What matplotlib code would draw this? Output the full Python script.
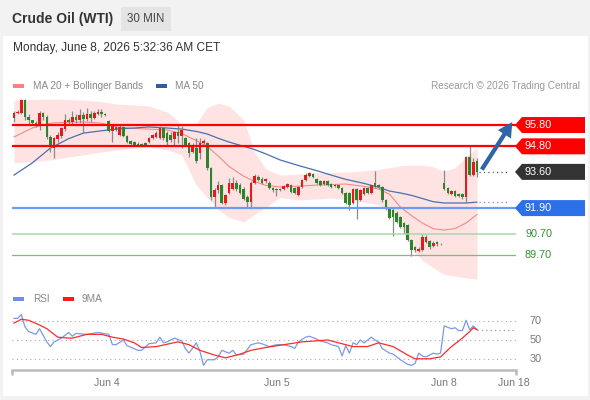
import numpy as np
import matplotlib
matplotlib.use("Agg")
import matplotlib.pyplot as plt
from matplotlib.patches import Rectangle, Polygon, FancyArrowPatch
import matplotlib.transforms as mtransforms

plt.rcParams['font.family'] = ['Liberation Sans', 'DejaVu Sans']

# 30 min candles, Jun 3 late morning -> Jun 8 05:00 CET (index = candle number)
opens = [96.13, 96.36, 96.36, 96.97, 96.18, 96.03, 95.90, 95.80, 96.36, 96.18,
         95.25, 94.70, 95.15, 95.30, 95.60, 96.03, 95.95, 96.18, 96.05, 96.27,
         96.10, 96.30, 96.15, 96.30, 96.40, 96.30, 96.00, 95.50, 95.70, 95.35,
         95.70, 95.30, 95.05, 95.00, 94.92, 94.90, 94.95, 95.00, 95.20, 95.25,
         95.20, 95.66, 95.42, 95.35, 95.15, 95.45, 95.30, 95.20, 94.95, 94.55,
         94.70, 94.50, 94.95, 94.95, 93.80, 92.40, 92.75, 93.00, 92.15, 92.60,
         92.80, 93.10, 93.00, 92.80, 92.40, 92.20, 93.10, 93.35, 93.25, 93.15,
         93.10, 92.85, 92.80, 92.80, 92.80, 92.90, 93.00, 92.85, 92.50, 92.90,
         93.20, 93.40, 93.50, 93.25, 93.15, 93.05, 93.15, 93.05, 92.95, 92.98,
         92.84, 92.60, 92.60, 92.15, 92.80, 92.30, 92.55, 92.85, 92.60, 93.10,
         93.00, 92.90, 92.30, 91.90, 91.80, 91.65, 91.50, 91.20, 91.10, 90.40,
         90.05, 89.90, 89.95, 90.30, 90.35, 90.10, 90.30, 90.22, 93.10, 92.85,
         92.55, 92.70, 92.55, 92.55, 92.40, 94.30, 93.45, 94.10]
highs = [96.45, 96.50, 97.02, 97.00, 96.30, 96.05, 95.98, 96.45, 96.40, 96.25,
         95.35, 95.25, 95.45, 95.70, 96.30, 96.15, 96.45, 96.30, 96.55, 96.40,
         96.60, 96.45, 96.45, 96.55, 96.55, 96.35, 96.05, 95.85, 95.75, 95.80,
         95.75, 95.35, 95.10, 95.05, 94.98, 94.95, 95.00, 95.25, 95.40, 95.50,
         95.75, 95.70, 95.50, 95.45, 95.50, 95.80, 95.75, 95.25, 95.00, 94.95,
         95.20, 95.20, 95.15, 95.00, 93.85, 92.85, 93.15, 93.05, 92.55, 93.30,
         93.35, 93.20, 93.10, 92.90, 92.50, 93.15, 93.50, 93.45, 93.35, 93.30,
         93.15, 92.90, 92.85, 92.85, 93.00, 93.10, 93.05, 92.90, 92.95, 93.25,
         93.55, 93.60, 93.55, 93.30, 93.20, 93.20, 93.20, 93.10, 93.05, 93.00,
         92.90, 92.65, 92.65, 92.85, 92.85, 92.80, 92.90, 92.90, 93.00, 93.65,
         93.05, 92.95, 92.35, 91.95, 91.90, 91.75, 91.55, 91.25, 91.15, 90.45,
         90.10, 90.05, 90.70, 90.65, 90.40, 90.35, 90.35, 90.25, 93.70, 92.90,
         92.75, 92.75, 92.60, 92.60, 94.35, 94.80, 94.25, 94.25]
lows = [95.96, 96.30, 96.30, 96.05, 95.85, 95.80, 95.70, 95.55, 96.05, 95.15,
        94.55, 94.25, 95.00, 95.20, 95.50, 95.85, 95.85, 95.90, 95.90, 95.42,
        96.00, 95.95, 96.10, 96.25, 96.20, 96.22, 95.45, 94.98, 95.50, 95.30,
        95.25, 94.95, 94.85, 94.80, 94.82, 94.80, 94.80, 94.95, 95.15, 95.20,
        95.15, 95.10, 94.80, 95.00, 94.80, 94.95, 94.70, 94.80, 94.30, 94.50,
        94.00, 94.20, 94.90, 93.70, 92.30, 91.90, 92.60, 92.10, 92.05, 92.55,
        92.75, 92.70, 92.55, 92.30, 91.95, 91.95, 93.05, 93.15, 93.05, 93.10,
        92.80, 92.65, 92.45, 92.70, 92.75, 92.85, 92.60, 92.55, 92.45, 92.85,
        93.15, 93.35, 93.30, 93.05, 92.95, 93.00, 92.95, 92.85, 92.90, 92.80,
        92.55, 92.10, 91.80, 92.10, 91.40, 92.25, 92.50, 92.55, 92.55, 92.85,
        92.80, 92.20, 91.80, 91.40, 90.60, 91.20, 90.95, 90.70, 90.35, 89.65,
        89.85, 89.85, 89.90, 90.25, 90.00, 90.05, 90.10, 90.15, 92.75, 92.55,
        92.50, 92.40, 92.40, 92.35, 92.15, 93.40, 93.40, 93.35]
closes = [96.36, 96.40, 96.97, 96.18, 96.03, 95.90, 95.80, 96.36, 96.18, 95.25,
          94.75, 95.20, 95.35, 95.66, 96.03, 95.95, 96.18, 96.05, 96.27, 96.10,
          96.30, 96.15, 96.35, 96.40, 96.30, 96.28, 95.50, 95.75, 95.57, 95.70,
          95.30, 95.00, 94.90, 94.88, 94.88, 94.86, 94.86, 95.20, 95.33, 95.42,
          95.66, 95.20, 95.00, 95.10, 95.45, 95.30, 95.55, 94.85, 94.50, 94.85,
          94.10, 94.95, 95.05, 93.80, 92.40, 92.75, 93.00, 92.15, 92.50, 93.10,
          93.10, 92.80, 92.60, 92.35, 92.20, 93.10, 93.40, 93.20, 93.10, 93.25,
          92.85, 92.75, 92.75, 92.75, 92.95, 93.05, 92.65, 92.60, 92.90, 93.20,
          93.45, 93.55, 93.35, 93.10, 93.00, 93.15, 93.00, 92.90, 93.00, 92.84,
          92.60, 92.15, 92.05, 92.80, 92.30, 92.75, 92.85, 92.60, 92.98, 92.90,
          92.90, 92.28, 91.90, 91.45, 91.50, 91.25, 91.00, 91.00, 90.40, 89.93,
          89.95, 90.00, 90.55, 90.55, 90.05, 90.25, 90.20, 90.20, 92.80, 92.60,
          92.70, 92.45, 92.45, 92.40, 94.30, 93.45, 94.05, 93.60]

# moving averages / bollinger bands, read at these candle indexes
ind_idx = [0, 5, 10, 15, 19, 24, 28, 33, 37, 42, 46, 50, 53, 56, 59, 63, 66,
           69, 73, 78, 83, 87, 91, 96, 100, 103, 106, 109, 112, 115, 118, 121, 124, 127]
bb_upper = [96.97, 97.00, 97.02, 97.00, 96.97, 96.90, 96.79, 96.74, 96.69, 96.41,
            95.85, 95.89, 96.62, 96.83, 96.69, 96.05, 94.53, 93.75, 93.45, 93.50,
            93.55, 93.57, 93.59, 93.65, 93.72, 93.80, 93.88, 93.92, 93.92, 93.84,
            93.62, 93.80, 94.30, 94.72]
bb_lower = [94.02, 94.08, 94.16, 94.30, 94.40, 94.53, 94.62, 94.72, 94.77, 94.63,
            94.40, 92.98, 92.40, 91.85, 91.45, 91.25, 91.60, 91.95, 92.40, 92.28,
            92.33, 92.37, 92.30, 92.18, 92.05, 91.80, 91.10, 90.00, 89.45, 89.10,
            88.78, 88.70, 88.62, 88.57]
ma20 = [95.24, 95.66, 95.89, 95.93, 95.94, 95.89, 95.71, 95.64, 95.61, 95.57,
        95.40, 95.07, 94.80, 94.35, 93.85, 93.40, 93.15, 92.97, 92.89, 92.93,
        92.98, 93.00, 93.03, 92.92, 92.80, 92.55, 91.95, 91.55, 91.20, 90.93,
        90.87, 90.94, 91.20, 91.60]
ma50 = [93.45, 94.02, 94.72, 95.16, 95.42, 95.53, 95.61, 95.66, 95.71, 95.66,
        95.61, 95.50, 95.38, 95.18, 95.00, 94.80, 94.65, 94.45, 94.16, 93.90,
        93.66, 93.45, 93.25, 93.06, 92.88, 92.70, 92.61, 92.50, 92.35, 92.20,
        92.14, 92.14, 92.14, 92.18]

# RSI(14) and its 9 period average
rsi_idx = [0, 1, 2, 3, 4, 6, 7, 8, 9, 10, 11, 13, 15, 16, 17, 20, 23, 26, 27, 28,
           30, 31, 34, 35, 37, 39, 40, 41, 42, 44, 46, 47, 48, 50, 51, 52, 53, 55,
           56, 57, 59, 60, 61, 63, 65, 67, 68, 70, 72, 74, 76, 77, 78, 80, 81, 83,
           84, 86, 87, 89, 90, 91, 92, 93, 94, 95, 96, 97, 98, 99, 100, 101, 103,
           104, 105, 106, 108, 109, 110, 111, 112, 113, 115, 116, 117, 118, 120,
           121, 122, 123, 124, 125, 126, 127]
rsi_val = [73, 73, 77, 64, 59, 56, 62, 55, 48, 43, 48, 52, 58, 54, 57, 56, 58, 56,
           45, 45, 50, 44, 39, 39, 46, 47, 53, 47, 48, 52, 49, 41, 36, 47, 38, 23,
           29, 29, 32, 39, 36, 39, 34, 35, 45, 47, 46, 43, 45, 45, 43, 41, 48, 53,
           54, 51, 49, 47, 45, 43, 33, 44, 36, 47, 45, 50, 47, 50, 53, 50, 48, 41,
           36, 35, 32, 29, 24, 23, 25, 36, 33, 32, 36, 35, 36, 65, 62, 63, 60, 60,
           71, 61, 65, 61]
ma9_idx = [0, 2, 4, 7, 9, 12, 15, 16, 20, 24, 27, 30, 33, 35, 39, 45, 48, 51, 55,
           58, 62, 65, 69, 74, 79, 86, 89, 93, 97, 100, 104, 108, 110, 114, 117,
           120, 123, 125, 126, 127]
ma9_val = [68, 72, 71, 66, 62, 53, 52, 52, 56, 56, 53, 51, 47, 42, 43, 48, 45, 39,
           34, 31, 35, 39, 42, 45, 48, 50, 47, 43, 43, 47, 43, 34, 30, 30, 32, 43,
           52, 59, 63, 61]

# key levels
resistances = [95.80, 94.80]
pivot = 91.90
supports = [90.70, 89.70]
last_price = 93.60
target = 96.05

date_pos = [25.5, 72, 118, 137]
date_labels = ['Jun 4', 'Jun 5', 'Jun 8', 'Jun 18']
rsi_levels = [70, 50, 30]

RED = '#e51b1b'
GREEN = '#2b862b'

fig = plt.figure(figsize=(5.9, 4.0), dpi=100, facecolor='#f2f2f2')
W, H = 590.0, 400.0
fig.patches.append(Rectangle((3 / W, 4 / H), 585 / W, 360 / H, transform=fig.transFigure,
                             facecolor='white', edgecolor='none', zorder=-5))

# header
fig.text(12 / W, 1 - 19 / H, 'Crude Oil (WTI)', fontsize=10, fontweight='bold',
         color='#333333', va='center')
fig.patches.append(Rectangle((121 / W, 1 - 31 / H), 50 / W, 24 / H, transform=fig.transFigure,
                             facecolor='#e4e4e4', edgecolor='none', zorder=-4))
fig.text(146 / W, 1 - 19 / H, '30 MIN', fontsize=8.3, color='#444444', ha='center', va='center')
fig.text(13 / W, 1 - 48 / H, 'Monday, June 8, 2026 5:32:36 AM CET', fontsize=8.6,
         color='#333333', va='center')

# legend row
fig.patches.append(Rectangle((13 / W, 1 - 88 / H), 11 / W, 4 / H, transform=fig.transFigure,
                             facecolor='#ff8080', edgecolor='none', zorder=-4))
fig.text(33 / W, 1 - 86 / H, 'MA 20 + Bollinger Bands', fontsize=7.2, color='#888888', va='center')
fig.patches.append(Rectangle((156 / W, 1 - 88 / H), 11 / W, 4 / H, transform=fig.transFigure,
                             facecolor='#2f5d9e', edgecolor='none', zorder=-4))
fig.text(175 / W, 1 - 86 / H, 'MA 50', fontsize=7.2, color='#888888', va='center')
fig.text(580 / W, 1 - 86 / H, 'Research \u00a9 2026 Trading Central', fontsize=7.2,
         color='#999999', va='center', ha='right')

# price panel
ax = fig.add_axes([12 / W, 1 - 282 / H, 504 / W, 187 / H])
ax.set_xlim(-0.55, 137.7)
ax.set_ylim(88.43, 97.21)
ax.axis('off')

ax.fill_between(ind_idx, bb_lower, bb_upper, color='#ffe3e3', lw=0, zorder=1)
ax.plot(ind_idx, ma20, color='#f58a8a', lw=0.8, zorder=2)
ax.plot(ind_idx, ma50, color='#4a70b0', lw=0.9, zorder=2)

idx = np.arange(len(closes))
o = np.array(opens)
c = np.array(closes)
up = c >= o
ax.vlines(idx, lows, highs, color='#8a8a8a', lw=0.9, zorder=3)
body = np.maximum(np.abs(c - o), 0.03)
ax.bar(idx, body, bottom=np.minimum(o, c), width=0.72,
       color=np.where(up, RED, GREEN), lw=0, zorder=4)

tip = (515 - 12) / 504.0
trans = mtransforms.blended_transform_factory(ax.transAxes, ax.transData)
for lv in resistances:
    ax.plot([0, tip], [lv, lv], color='#ff0000', lw=1.6, transform=trans, zorder=5)
ax.plot([0, tip], [pivot, pivot], color='#6b9cf2', lw=1.6, transform=trans, zorder=5)
ax.plot([0, 1.0], [supports[0], supports[0]], color='#a8d8a8', lw=1.1, transform=trans, zorder=5)
ax.plot([0, 1.0], [supports[1], supports[1]], color='#74c274', lw=0.9, transform=trans, zorder=5)

# dotted extensions to the labels
ax.plot([idx[-1] + 0.5, 135.5], [last_price, last_price], color='#555555', lw=0.9,
        ls=(0, (1, 2.5)), zorder=5)
ax.plot([ind_idx[-1] + 0.5, 135.5], [ma50[-1], ma50[-1]], color='#888888', lw=0.9,
        ls=(0, (1, 2.5)), zorder=5)

hh = 8 / 21.3
c0 = (522 - 12) / 504.0
c1 = (585 - 12) / 504.0
txt_x = (538.5 - 12) / 504.0
boxes = [(resistances[0], '#ff0000'), (resistances[1], '#ff0000'),
         (last_price, '#333333'), (pivot, '#2d6fe8')]
for lv, col in boxes:
    poly = Polygon([(tip, lv), (c0, lv + hh), (c1, lv + hh), (c1, lv - hh), (c0, lv - hh)],
                   closed=True, transform=trans, facecolor=col, edgecolor='none',
                   clip_on=False, zorder=6)
    ax.add_patch(poly)
    ax.text(txt_x, lv, '%.2f' % lv, transform=trans, color='white', fontsize=7.8,
            ha='center', va='center', zorder=7, clip_on=False)
for lv in supports:
    ax.text(txt_x, lv, '%.2f' % lv, transform=trans, color='#2e962e', fontsize=7.8,
            ha='center', va='center', clip_on=False)

arr = FancyArrowPatch((idx[-1] + 0.9, last_price), (137.1, target),
                      arrowstyle='simple,head_length=0.75,head_width=0.8,tail_width=0.22',
                      mutation_scale=14, color='#2f64a8', lw=0, zorder=8, clip_on=False)
ax.add_patch(arr)

# RSI panel
fig.patches.append(Rectangle((13 / W, 1 - 301 / H), 11 / W, 4 / H, transform=fig.transFigure,
                             facecolor='#6d8fe6', edgecolor='none', zorder=-4))
fig.text(33 / W, 1 - 299 / H, 'RSI', fontsize=7.2, color='#888888', va='center')
fig.patches.append(Rectangle((63 / W, 1 - 301 / H), 11 / W, 4 / H, transform=fig.transFigure,
                             facecolor='#ff1a1a', edgecolor='none', zorder=-4))
fig.text(82 / W, 1 - 299 / H, '9MA', fontsize=7.2, color='#888888', va='center')

ax2 = fig.add_axes([12 / W, 1 - 370 / H, 504 / W, 65 / H])
ax2.set_xlim(-0.55, 137.7)
ax2.set_ylim(18.1, 87.2)
ax2.patch.set_visible(False)
for s in ['top', 'right', 'left']:
    ax2.spines[s].set_visible(False)
ax2.spines['bottom'].set_color('#bbbbbb')
ax2.spines['bottom'].set_linewidth(1.8)
ax2.set_yticks([])
ax2.set_xticks(date_pos)
ax2.set_xticklabels(date_labels, fontsize=7.6, color='#777777')
ax2.tick_params(axis='x', length=0, pad=6)
for xe in [0, 1]:
    ax2.plot([xe, xe], [0, -0.07], transform=ax2.transAxes, color='#bbbbbb', lw=1.8,
             clip_on=False, solid_capstyle='butt')

rtrans = mtransforms.blended_transform_factory(ax2.transAxes, ax2.transData)
for lv in rsi_levels:
    ax2.plot([0, 1], [lv, lv], transform=rtrans, color='#aaaaaa', lw=0.8, ls=(0, (1, 3)))
    ax2.text(1.026, lv, str(lv), transform=rtrans, fontsize=7.8, color='#777777',
             va='center', ha='left')

ax2.plot(rsi_idx, rsi_val, color='#7c9aec', lw=0.9, zorder=3)
ax2.plot(ma9_idx, ma9_val, color='#ff2a2a', lw=0.9, zorder=4)
ax2.plot([rsi_idx[-1], 137.7], [rsi_val[-1], rsi_val[-1]], color='#7c9aec', lw=0.9,
         ls=(0, (1, 2.5)), zorder=3)

fig.savefig('out.png', dpi=100, facecolor=fig.get_facecolor())
